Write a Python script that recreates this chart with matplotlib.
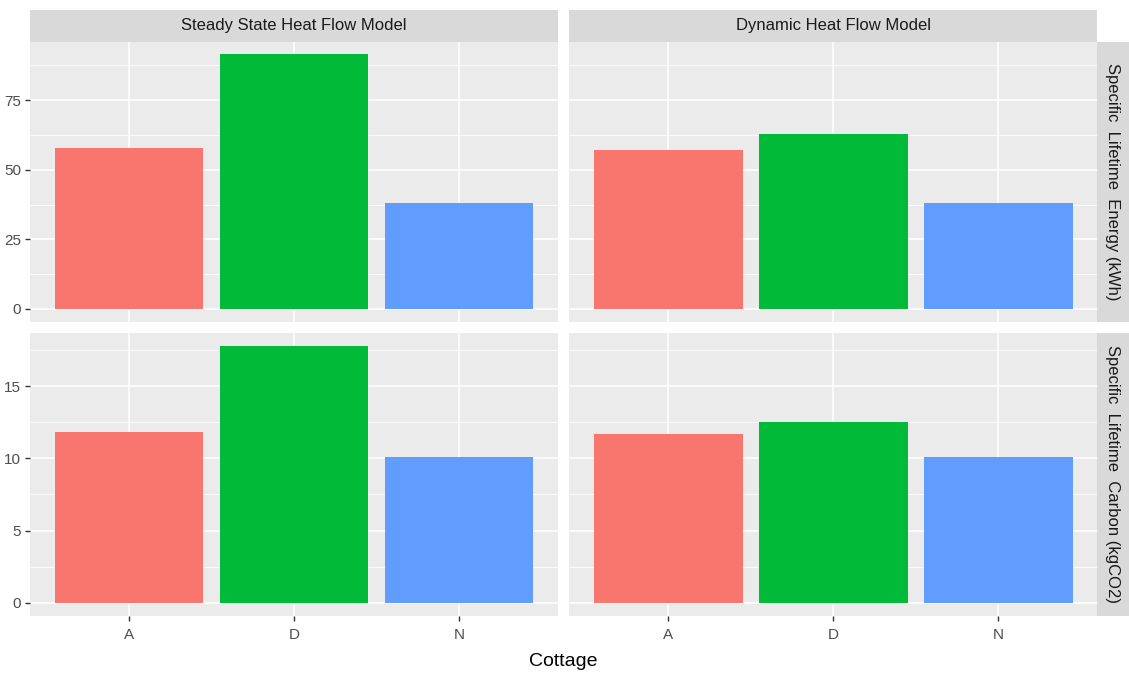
import matplotlib.pyplot as plt
import numpy as np

plt.rcParams["font.family"] = ["Liberation Sans", "DejaVu Sans"]

cottages = ["A", "D", "N"]
models = ["Steady State Heat Flow Model", "Dynamic Heat Flow Model"]
metrics = ["Specific  Lifetime  Energy (kWh)", "Specific  Lifetime  Carbon (kgCO2)"]

# values[metric][model] -> per cottage
energy_steady = [57.7, 91.4, 38.0]
energy_dynamic = [57.1, 62.7, 38.1]
carbon_steady = [11.8, 17.8, 10.1]
carbon_dynamic = [11.7, 12.5, 10.1]

values = [[energy_steady, energy_dynamic], [carbon_steady, carbon_dynamic]]
major_steps = [25, 5]
fill_colors = ["#F8766D", "#00BA38", "#619CFF"]

W, H = 1129, 675
fig = plt.figure(figsize=(W / 100, H / 100), dpi=100)

# panel boxes in pixels (left, top, right, bottom)
cols = [(30, 557.7), (569.3, 1097.3)]
rows = [(41.7, 321.7), (332.7, 615.7)]
strip_top = 10
strip_right = 1128.5


def px_box(x0, y0, x1, y1):
    return [x0 / W, 1 - y1 / H, (x1 - x0) / W, (y1 - y0) / H]


for r, (y0, y1) in enumerate(rows):
    row_max = max(max(v) for v in values[r])
    lo, hi = -0.05 * row_max, row_max * 1.05
    step = major_steps[r]
    majors = np.arange(0, row_max + 1e-9, step)
    minors = np.arange(step / 2, hi, step)
    for c, (x0, x1) in enumerate(cols):
        ax = fig.add_axes(px_box(x0, y0, x1, y1))
        ax.set_facecolor("#EBEBEB")
        for s in ax.spines.values():
            s.set_visible(False)
        ax.set_xlim(0.4, 3.6)
        ax.set_ylim(lo, hi)
        for m in minors:
            ax.axhline(m, color="white", lw=0.55, zorder=0)
        for m in majors:
            ax.axhline(m, color="white", lw=1.1, zorder=0)
        for xp in range(1, 4):
            ax.axvline(xp, color="white", lw=1.1, zorder=0)
        ax.bar(range(1, 4), values[r][c], width=0.9, color=fill_colors, zorder=2)
        ax.set_xticks(range(1, 4))
        ax.set_yticks(majors)
        ax.tick_params(colors="#333333", length=3.5, width=1, labelsize=11,
                       labelcolor="#4D4D4D", pad=3)
        ax.tick_params(axis="x", pad=5)
        if c == 0:
            ax.set_yticklabels([f"{int(m)}" for m in majors])
        else:
            ax.tick_params(axis="y", length=0, labelleft=False)
        if r == 1:
            ax.set_xticklabels(cottages)
        else:
            ax.tick_params(axis="x", length=0, labelbottom=False)

        # top strips
        if r == 0:
            sax = fig.add_axes(px_box(x0, strip_top, x1, y0))
            sax.set_facecolor("#D9D9D9")
            sax.set_xticks([])
            sax.set_yticks([])
            for s in sax.spines.values():
                s.set_visible(False)
            sax.text(0.5, 0.5, models[c], ha="center", va="center",
                     fontsize=12, color="#1A1A1A", transform=sax.transAxes)

    # right strips
    rax = fig.add_axes(px_box(cols[1][1], y0, strip_right, y1))
    rax.set_facecolor("#D9D9D9")
    rax.set_xticks([])
    rax.set_yticks([])
    for s in rax.spines.values():
        s.set_visible(False)
    rax.text(0.5, 0.5, metrics[r], ha="center", va="center", rotation=-90,
             fontsize=12, color="#1A1A1A", transform=rax.transAxes)

fig.text((cols[0][0] + cols[1][1]) / 2 / W, 1 - 662 / H, "Cottage",
         ha="center", va="center", fontsize=14, color="black")

fig.savefig("out.png", dpi=100, facecolor="white")
